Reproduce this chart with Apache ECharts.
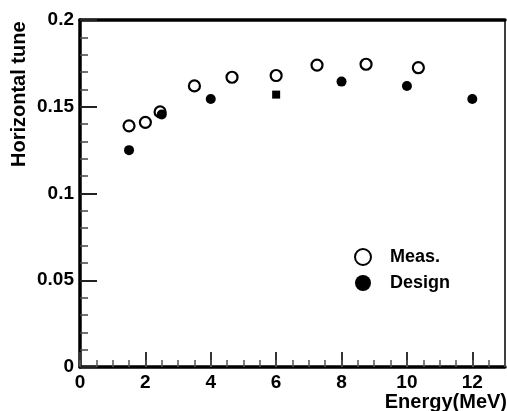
<!DOCTYPE html>
<html><head><meta charset="utf-8">
<script src="https://cdn.jsdelivr.net/npm/echarts@6/dist/echarts.min.js"></script>
<style>html,body{margin:0;padding:0;background:#fff}#c{width:507px;height:411px}</style>
</head><body><div id="c"></div>
<script>
var measX = [1.5, 2.0, 2.45, 3.5, 4.65, 6.0, 7.25, 8.75, 10.35];
var measY = [0.139, 0.141, 0.147, 0.162, 0.167, 0.168, 0.174, 0.1745, 0.1725];
var designX = [1.5, 2.5, 4.0, 6.0, 8.0, 10.0, 12.0];
var designY = [0.125, 0.1455, 0.1545, 0.157, 0.1645, 0.162, 0.1545];
var designSymbols = ['circle','circle','circle','rect','circle','circle','circle'];
var seriesNames = ['Meas.', 'Design'];
var xTitle = 'Energy(MeV)';
var yTitle = 'Horizontal tune';

var FONT = 'Liberation Sans';
var chart = echarts.init(document.getElementById('c'), null, {renderer:'canvas'});
var measData = measX.map(function(x,i){return [x, measY[i]];});
var designData = designX.map(function(x,i){
  var d = {value:[x, designY[i]]};
  if (designSymbols[i] === 'rect') { d.symbol = 'rect'; d.symbolSize = 8; }
  return d;
});
var lbl = {color:'#000', fontFamily:FONT, fontWeight:'bold', fontSize:19};
chart.setOption({
  animation:false,
  backgroundColor:'#fff',
  grid:{left:80, right:2, top:20, bottom:44, show:true, borderColor:'#000', borderWidth:1.5},
  legend:{
    orient:'vertical', left:349, top:243, itemWidth:16, itemHeight:16, itemGap:8,
    textStyle:{color:'#000', fontFamily:FONT, fontWeight:'bold', fontSize:18, padding:[0,0,0,14]},
    data:[{name:seriesNames[0], icon:'circle'},{name:seriesNames[1], icon:'circle'}]
  },
  xAxis:[
    {type:'value', min:0, max:13, interval:2, position:'bottom',
     axisLine:{show:true, onZero:false, lineStyle:{color:'#000', width:3.5}},
     axisTick:{show:true, inside:true, length:15, lineStyle:{color:'#333', width:2}},
     axisLabel:Object.assign({margin:6, showMaxLabel:false}, lbl),
     splitLine:{show:false}},
    {type:'value', min:0, max:13, interval:0.5, position:'bottom',
     axisLine:{show:false},
     axisTick:{show:true, inside:true, length:7, lineStyle:{color:'#555', width:1.5}},
     axisLabel:{show:false}, splitLine:{show:false}},
    {type:'value', min:0, max:13, position:'top',
     axisLine:{show:true, onZero:false, lineStyle:{color:'#000', width:3.5}},
     axisTick:{show:false}, axisLabel:{show:false}, splitLine:{show:false}}
  ],
  yAxis:{type:'value', min:0, max:0.2, interval:0.05,
     axisLine:{show:true, onZero:false, lineStyle:{color:'#000', width:3.5}},
     axisTick:{show:true, inside:true, length:17, lineStyle:{color:'#222', width:2}},
     minorTick:{show:true, splitNumber:5, length:8, lineStyle:{color:'#444', width:1.5}},
     axisLabel:Object.assign({margin:6, formatter:function(v){return String(+v.toFixed(2));}}, lbl),
     splitLine:{show:false}},
  graphic:[
    {type:'text', right:0, top:392, style:{text:xTitle, fill:'#000', font:'bold 20px "Liberation Sans"'}},
    {type:'text', x:9, y:167, rotation:Math.PI/2, style:{text:yTitle, fill:'#000', font:'bold 20px "Liberation Sans"'}}
  ],
  series:[
    {name:seriesNames[0], type:'scatter', xAxisIndex:0, symbol:'circle', symbolSize:11,
     itemStyle:{color:'#fff', borderColor:'#000', borderWidth:2.2, opacity:1}, data:measData, z:2},
    {name:seriesNames[1], type:'scatter', xAxisIndex:0, symbol:'circle', symbolSize:10,
     itemStyle:{color:'#000', borderColor:'#000', borderWidth:0, opacity:1}, data:designData, z:3}
  ]
});
</script></body></html>
